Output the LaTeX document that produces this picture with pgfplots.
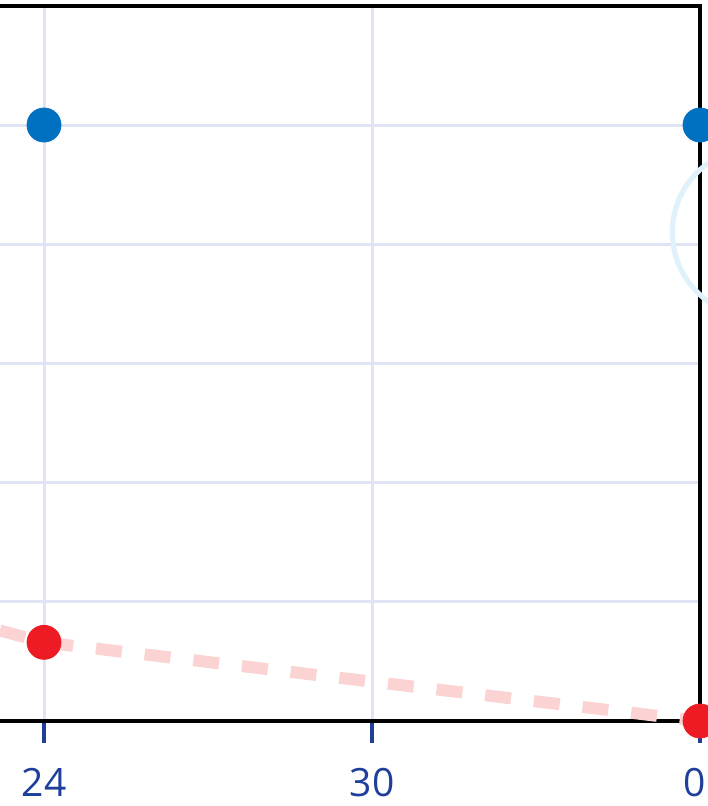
\documentclass[border=0pt]{standalone}
\usepackage{pgfplots}
\pgfplotsset{compat=1.18}
\usepackage{fontspec}
\setmainfont{Open Sans}
\definecolor{bluept}{HTML}{0070C0}
\definecolor{redpt}{HTML}{ED1C24}
\definecolor{pinkline}{HTML}{FBD3D3}
\definecolor{ringc}{HTML}{DFF1FA}
\definecolor{gridc}{HTML}{E0E3F3}
\definecolor{tickc}{HTML}{1F3F9B}
\begin{document}
\begin{tikzpicture}
\begin{axis}[
  set layers,
  anchor=south west, at={(-87.333pt,-360.5pt)},
  x=27.3333pt, y=59.6pt,
  xmin=20, xmax=36, ymin=0, ymax=6,
  clip=false,
  xtick={24,30,36}, xticklabels={24,30,{\kern-2.5pt 0\kern2.5pt}},
  ytick={0,1,2,3,4,5,6}, yticklabels={},
  grid=major,
  major grid style={draw=gridc, line width=1.5pt},
  axis line style={line width=2pt, draw=black},
  tick align=outside,
  major tick length=11pt,
  xtick pos=bottom,
  ytick pos=left,
  xtick style={draw=tickc, line width=2pt},
  ytick style={draw=none},
  xticklabel style={font=\fontsize{19.5}{23}\selectfont, text=tickc, yshift=-9pt},
]
\addplot[on layer=axis background, only marks, mark=o, mark size=42.25pt,
  mark options={draw=ringc, line width=2.6pt, fill=none}] coordinates {(37.04,4.1)};
\addplot[draw=pinkline, line width=6pt, dash pattern=on 13pt off 11.5pt, no markers]
  coordinates {(18,1.4) (24,0.66) (36,0)};
\addplot[only marks, mark=*, mark size=8.5pt, color=redpt, mark options={draw=redpt, fill=redpt}]
  coordinates {(24,0.66) (36,0)};
\addplot[only marks, mark=*, mark size=8.5pt, color=bluept, mark options={draw=bluept, fill=bluept}]
  coordinates {(24,5) (36,5)};
\end{axis}
\pgfresetboundingbox
\useasboundingbox (0pt,0pt) rectangle (353.5pt,-403pt);
\end{tikzpicture}
\end{document}
